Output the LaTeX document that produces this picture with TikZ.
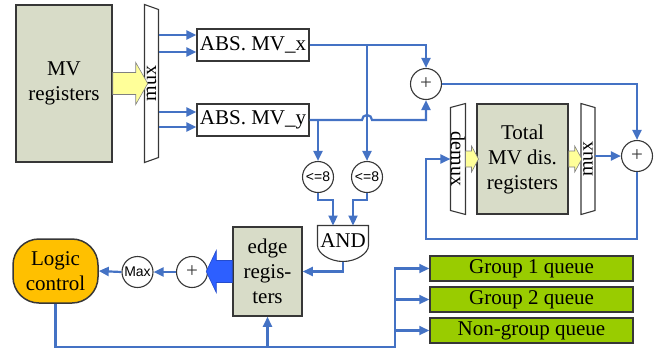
\documentclass[tikz,border=0pt]{standalone}
\usepackage{fontspec}
\setmainfont{Liberation Serif}
\newfontfamily\labelsans{Liberation Sans}
\usetikzlibrary{arrows.meta}
\definecolor{regfill}{RGB}{216,220,200}
\definecolor{boxline}{RGB}{55,55,55}
\definecolor{linkblue}{RGB}{68,114,196}
\definecolor{arrowyellow}{RGB}{255,255,153}
\definecolor{fatblue}{RGB}{45,95,255}
\definecolor{logicgold}{RGB}{255,192,0}
\definecolor{queuegreen}{RGB}{153,204,0}

\begin{document}
\begin{tikzpicture}[x=1pt,y=-1pt,line width=1pt,font=\fontsize{21}{25}\selectfont,
  link/.style={draw=linkblue,line width=2.2pt,-{Triangle[length=10pt,width=9pt]}},
  regbox/.style={draw=boxline,line width=1.5pt,fill=regfill,inner sep=0pt,align=center},
  absbox/.style={draw=boxline,line width=1.2pt,fill=white,minimum width=112pt,minimum height=32pt,inner sep=0pt},
  muxbox/.style={inner sep=0pt,minimum width=13pt,font=\fontsize{20}{20}\selectfont},
  muxline/.style={draw=boxline,line width=1.1pt},
  opcirc/.style={circle,draw=boxline,line width=1.1pt,fill=white,minimum size=31pt,inner sep=0pt,text=boxline},
  cmpcirc/.style={opcirc,font=\labelsans\fontsize{14}{14}\selectfont,text=black},
  fatyellow/.style={draw=gray,line width=.6pt,fill=arrowyellow},
  fatarrow/.style={draw=fatblue!80!black,line width=.6pt,fill=fatblue},
  logicbox/.style={draw=boxline,line width=1.5pt,fill=logicgold,rounded corners=26pt,minimum width=85pt,minimum height=64pt,align=center,inner sep=0pt},
  queue/.style={draw=boxline,line width=1.5pt,fill=queuegreen,minimum width=203pt,minimum height=25pt,inner sep=0pt}]
\path[use as bounding box] (0,0) rectangle (669,354);
% input side
\node[regbox,minimum width=96pt,minimum height=157pt] (mvreg) at (64,83.5) {MV\\registers};
\node[muxbox,minimum height=157pt] (muxa) at (151.5,83.5) {\rotatebox{90}{mux}};
\draw[muxline] (muxa.north west) -- ([yshift=-5pt]muxa.north east) -- ([yshift=5pt]muxa.south east) -- (muxa.south west) -- cycle;
\draw[fatyellow] (mvreg.east) ++(0,-11) -- ++(23,0) -- ++(0,-10) -- ++(12,21) -- ++(-12,21) -- ++(0,-10) -- ++(-23,0) -- cycle;
\node[absbox] (absx) at (253,45) {ABS. MV\_x};
\node[absbox] (absy) at (253,120) {ABS. MV\_y};
\node[opcirc] (sum1) at (426,84) {+};
\node[cmpcirc] (cmp1) at (318,177) {<=8};
\node[cmpcirc] (cmp2) at (367,177) {<=8};
\node[inner sep=0pt,minimum width=50pt,minimum height=35pt] (andg) at (343,243.5) {\raisebox{5pt}{AND}};
\draw[muxline,fill=white] (andg.north west) -- (andg.north east) -- ([yshift=-20pt]andg.north east)
  .. controls ([yshift=-28pt]andg.north east) and ([xshift=13pt]andg.south) .. (andg.south)
  .. controls ([xshift=-13pt]andg.south) and ([yshift=-28pt]andg.north west) .. ([yshift=-20pt]andg.north west) -- cycle;
\node at (andg) {\raisebox{5pt}{AND}};
% accumulator loop
\node[regbox,minimum width=91pt,minimum height=110pt] (total) at (522.5,159) {Total\\MV dis.\\registers};
\node[muxbox,minimum height=110pt] (demux) at (458,159) {\rotatebox{-90}{demux}};
\draw[muxline] ([yshift=-4pt]demux.north west) -- (demux.north east) -- (demux.south east) -- ([yshift=4pt]demux.south west) -- cycle;
\node[muxbox,minimum height=110pt] (muxb) at (588,159) {\rotatebox{90}{mux}};
\draw[muxline] (muxb.north west) -- ([yshift=-4pt]muxb.north east) -- ([yshift=4pt]muxb.south east) -- (muxb.south west) -- cycle;
\draw[fatyellow] (demux.east) ++(0,-8) -- ++(6,0) -- ++(0,-5) -- ++(7,13) -- ++(-7,13) -- ++(0,-5) -- ++(-6,0) -- cycle;
\draw[fatyellow] (total.east) ++(0,-8) -- ++(6,0) -- ++(0,-5) -- ++(7,13) -- ++(-7,13) -- ++(0,-5) -- ++(-6,0) -- cycle;
\node[opcirc] (sum3) at (637,156) {+};
\coordinate (loop) at (426,239);
% edge path
\node[regbox,minimum width=69pt,minimum height=89pt] (edge) at (267.5,271.5) {edge\\regis-\\ters};
\node[opcirc] (sum2) at (192,272) {+};
\node[cmpcirc] (maxc) at (137.5,272) {Max};
\node[logicbox] (logic) at (55.5,271) {Logic\\control};
\draw[fatarrow] (edge.west) ++(0,-11) -- ++(-16,0) -- ++(0,-10) -- ++(-10,21) -- ++(10,21) -- ++(0,-10) -- ++(16,0) -- cycle;
\node[queue] (q1) at (531.5,268.5) {Group 1 queue};
\node[queue] (q2) at (531.5,299.5) {Group 2 queue};
\node[queue] (q3) at (531.5,330.5) {Non-group queue};
\coordinate (bus) at (395,347);
% connectors
\draw[link] ([yshift=10pt]absx.west -| muxa.east) -- ([yshift=10pt]absx.west);
\draw[link] ([yshift=-7pt]absx.west -| muxa.east) -- ([yshift=-7pt]absx.west);
\draw[link] ([yshift=8pt]absy.west -| muxa.east) -- ([yshift=8pt]absy.west);
\draw[link] ([yshift=-7pt]absy.west -| muxa.east) -- ([yshift=-7pt]absy.west);
\draw[link] (absx.east) -| (sum1.north);
\draw[link] (absx.east -| cmp2.north) -- (cmp2.north);
\draw[link] (absy.east) -- ([xshift=-5pt]absy.east -| cmp2.north) arc[start angle=180,end angle=360,radius=5] -- (absy.east -| sum1.south) -- (sum1.south);
\draw[link] (absy.east -| cmp1.north) -- (cmp1.north);
\draw[link] (cmp1.south) -- ++(0,7) -| ([xshift=-10pt]andg.north);
\draw[link] (cmp2.south) -- ++(0,7) -| ([xshift=10pt]andg.north);
\draw[link] (andg.south) |- (edge.east);
\draw[link] (sum1.east) -| (sum3.north);
\draw[link] (muxb.east |- sum3.west) -- (sum3.west);
\draw[link] (sum3.south) |- (loop) |- (demux.west);
\draw[link] (sum2.west) -- (maxc.east);
\draw[link] (maxc.west) -- (logic.east);
\draw[link] (logic.south) |- (bus) |- (q1.west);
\draw[link] (bus |- q2.west) -- (q2.west);
\draw[link] (bus |- q3.west) -- (q3.west);
\draw[link] (edge.south |- bus) -- (edge.south);
\end{tikzpicture}
\end{document}
